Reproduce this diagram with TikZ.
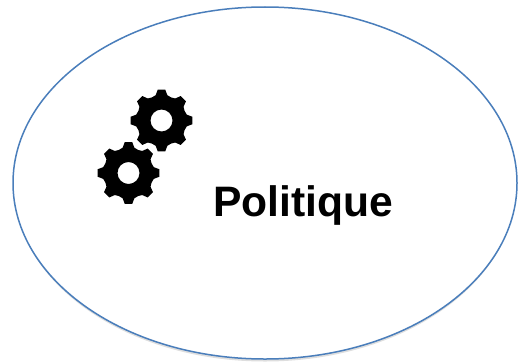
\documentclass[tikz,border=0pt]{standalone}
\usepackage{fontspec}
\setmainfont{Liberation Sans}
\usetikzlibrary{shapes.geometric}
\definecolor{ringblue}{HTML}{4A7EBB}
\tikzset{
  ring/.style={ellipse,draw=ringblue,line width=1.5pt,fill=white,minimum width=504pt,minimum height=352pt,inner sep=0pt,outer sep=0pt},
  ringshadow/.style={ellipse,fill=black!13,minimum width=502pt,minimum height=352pt,inner sep=0pt,outer sep=0pt},
  label/.style={font=\bfseries\fontsize{42.6}{48}\selectfont,text=black,inner sep=0pt,anchor=base west},
  gearshape/.pic={
    \fill[black,even odd rule,line join=round]
      (-7:31)
      \foreach \a in {0,45,...,315}{
        -- (\a-7:31) -- (\a+7:31) -- (\a+13:26) -- (\a+22.5:25) -- (\a+32:26)
      } -- cycle
      (0,0) circle (11);
  }
}
\begin{document}
\begin{tikzpicture}[x=1pt,y=-1pt]
\useasboundingbox (0,0) rectangle (518,361);
\node[ringshadow] (shadow) at (265,185.5) {};
\node[ring] (oval) at (265,183) {};
\pic (gearup) at (161.5,120.5) {gearshape};
\pic (geardown) at (128.5,173) {gearshape};
\node[label] (title) at (213,216) {Politique};
\end{tikzpicture}
\end{document}
